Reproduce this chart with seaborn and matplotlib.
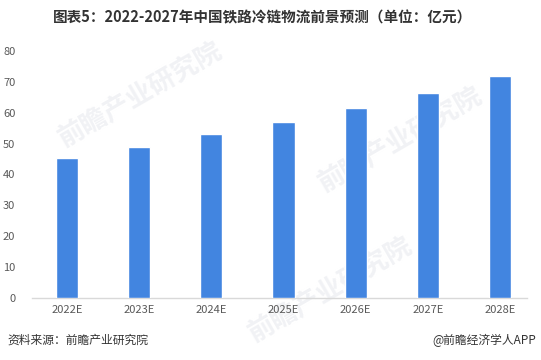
"""
铁路冷链物流前景预测 柱状图
"""
import numpy as np
import pandas as pd
import matplotlib
matplotlib.use("Agg")
import matplotlib.pyplot as plt
import seaborn as sns

# 数据
years = ['2022E', '2023E', '2024E', '2025E', '2026E', '2027E', '2028E']
values = [45.4, 49.0, 53.1, 57.0, 61.5, 66.4, 72.0]
y_ticks = [0, 10, 20, 30, 40, 50, 60, 70, 80]

title = '图表5：2022-2027年中国铁路冷链物流前景预测（单位：亿元）'
source = '资料来源：前瞻产业研究院'
credit = '@前瞻经济学人APP'

sns.set_theme(style='white')
plt.rcParams['font.family'] = ['Noto Sans CJK SC', 'DejaVu Sans']

df = pd.DataFrame({'年份': years, '规模': values})

fig = plt.figure(figsize=(5.41, 3.6), dpi=100)
ax = fig.add_axes([32 / 541, 62.3 / 360, 495 / 541, (309 - 62.3) / 360])
ax.patch.set_alpha(0)

# 水印（在坐标轴之下）
for (wx, wy) in [(140, 95), (400, 140), (330, 290)]:
    fig.text(wx / 541, 1 - wy / 360, '前瞻产业研究院', fontsize=19, fontweight='bold',
             color='#f1f2f5', rotation=30, ha='center', va='center', zorder=-5)

sns.barplot(data=df, x='年份', y='规模', color='#4285e0', saturation=1,
            width=0.305, ax=ax, zorder=3)

ax.set_xlim(-0.485, 6.374)
ax.set_ylim(0, 80)
ax.set_yticks(y_ticks)
ax.set_xlabel('')
ax.set_ylabel('')
ax.tick_params(axis='both', labelsize=8, colors='#595959', length=0)
ax.tick_params(axis='y', pad=12)
ax.tick_params(axis='x', pad=5)

for s in ['top', 'right', 'left']:
    ax.spines[s].set_visible(False)
ax.spines['bottom'].set_color('#d9d9d9')
ax.spines['bottom'].set_linewidth(1)

fig.text(263 / 541, 1 - 17 / 360, title, fontsize=10.5, fontweight='bold',
         color='#333333', ha='center', va='center')
fig.text(7 / 541, 1 - 340 / 360, source, fontsize=8.5, color='#333333',
         ha='left', va='center')
fig.text(536 / 541, 1 - 340 / 360, credit, fontsize=8.5, color='#333333',
         ha='right', va='center')

plt.savefig('out.png', dpi=100)
plt.close()
